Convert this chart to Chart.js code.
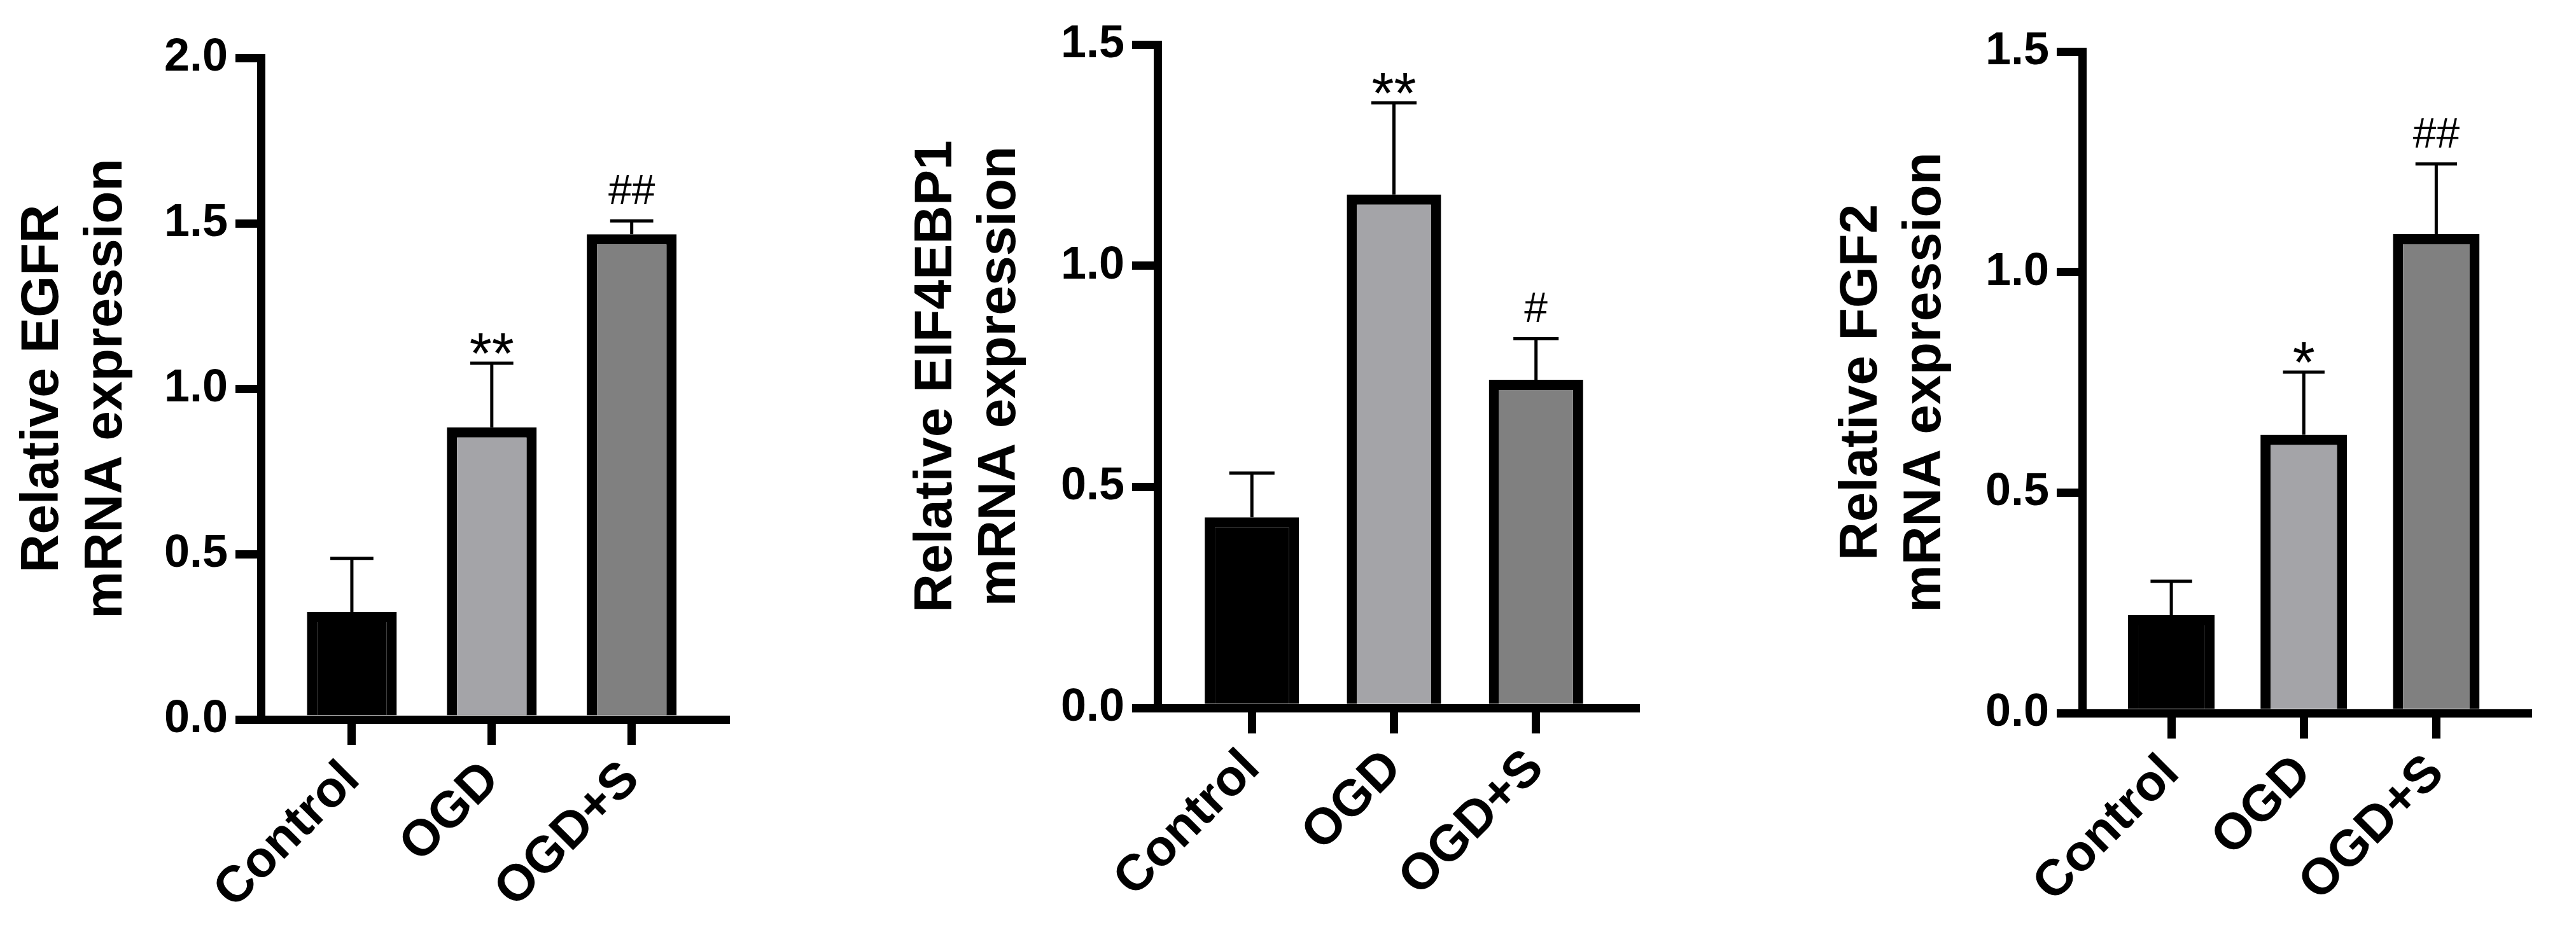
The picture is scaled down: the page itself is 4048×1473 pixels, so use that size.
<!DOCTYPE html>
<html>
<head>
<meta charset="utf-8">
<script src="https://cdn.jsdelivr.net/npm/chart.js@4.4.1/dist/chart.umd.min.js"></script>
<style>
  html, body { margin: 0; padding: 0; background: #fff; }
  #wrap { position: relative; width: 4048px; height: 1473px; }
  .panel { position: absolute; top: 0; height: 1473px; }
</style>
</head>
<body>
<div id="wrap">
  <div class="panel" style="left:0"><canvas id="c1" width="1350" height="1473"></canvas></div>
  <div class="panel" style="left:1350px"><canvas id="c2" width="1400" height="1473"></canvas></div>
  <div class="panel" style="left:2750px"><canvas id="c3" width="1298" height="1473"></canvas></div>
</div>
<script>
// données (moyenne + barre d'erreur vers le haut)
const groups = ['Control', 'OGD', 'OGD+S'];
const barColors = ['#000000', '#a4a4a8', '#808080'];

const egfrMean = [0.325, 0.883, 1.467];
const egfrErr  = [0.162, 0.194, 0.040];
const egfrSig  = ['', '**', '##'];
const egfrTicks = [0, 0.5, 1.0, 1.5, 2.0];

const eifMean = [0.431, 1.161, 0.742];
const eifErr  = [0.100, 0.207, 0.093];
const eifSig  = ['', '**', '#'];
const eifTicks = [0, 0.5, 1.0, 1.5];

const fgfMean = [0.222, 0.631, 1.086];
const fgfErr  = [0.077, 0.142, 0.159];
const fgfSig  = ['', '*', '##'];
const fgfTicks = [0, 0.5, 1.0, 1.5];

const FONT = '"Liberation Sans", Arial, sans-serif';

//barres d'erreur + étoiles au dessus//
const errorBars = {
  id: 'errorBars',
  afterDatasetsDraw(chart, args, opts) {
    const ctx = chart.ctx;
    const y = chart.scales.y;
    const meta = chart.getDatasetMeta(0);
    ctx.save();
    ctx.strokeStyle = '#000';
    ctx.fillStyle = '#000';
    ctx.lineWidth = 5;
    meta.data.forEach((bar, i) => {
      const p = bar.getProps(['x', 'y', 'width'], true);
      const top = y.getPixelForValue(opts.mean[i] + opts.err[i]);
      const half = p.width * 0.24;
      ctx.beginPath();
      ctx.moveTo(p.x, p.y);
      ctx.lineTo(p.x, top);
      ctx.moveTo(p.x - half, top);
      ctx.lineTo(p.x + half, top);
      ctx.stroke();
      const s = opts.sig[i];
      if (s) {
        ctx.textAlign = 'center';
        ctx.textBaseline = 'alphabetic';
        // l'astérisque d'Arial est petit et haut placé -> police + grande, ligne de base + basse
        if (s.includes('*')) {
          ctx.font = '90px ' + FONT;
          ctx.fillText(s, p.x, top + 16);
        } else {
          ctx.font = '66px ' + FONT;
          ctx.fillText(s, p.x, top - 26);
        }
      }
    });
    ctx.restore();
  }
};

function makeChart(id, mean, err, sig, yTicks, title, box) {
  new Chart(document.getElementById(id).getContext('2d'), {
    type: 'bar',
    data: {
      datasets: [{
        data: mean.map((m, i) => ({ x: i, y: m })),
        backgroundColor: barColors,
        borderColor: '#000',
        borderWidth: 16,
        borderSkipped: 'bottom',
        categoryPercentage: 1,
        barPercentage: box.bar,
      }]
    },
    options: {
      responsive: false,
      animation: false,
      devicePixelRatio: 1,
      layout: { padding: { top: box.top, right: box.right, left: 0, bottom: 0 } },
      plugins: {
        legend: { display: false },
        tooltip: { enabled: false },
        errorBars: { mean: mean, err: err, sig: sig }
      },
      scales: {
        x: {
          type: 'linear',
          offset: false,
          bounds: 'data',
          min: box.xMin,
          max: box.xMax,
          afterBuildTicks: s => { s.ticks = groups.map((g, i) => ({ value: i })); },
          afterFit: s => { s.height = 1473 - box.bottom; },
          ticks: {
            autoSkip: false,
            minRotation: 45,
            maxRotation: 45,
            padding: 8,
            color: '#000',
            font: { family: FONT, size: 80, weight: 'bold' },
            callback: (v, i) => groups[i]
          },
          grid: { offset: false, drawOnChartArea: false, tickLength: 40, lineWidth: 13, tickWidth: 13, color: '#000', tickColor: '#000' },
          border: { width: 13, color: '#000' }
        },
        y: {
          min: 0,
          max: yTicks[yTicks.length - 1],
          afterBuildTicks: s => { s.ticks = yTicks.map(v => ({ value: v })); },
          afterFit: s => { s.width = box.left; },
          ticks: {
            padding: 12,
            color: '#000',
            font: { family: FONT, size: 72, weight: 'bold' },
            callback: v => v.toFixed(1)
          },
          grid: { drawOnChartArea: false, tickLength: 40, lineWidth: 13, tickWidth: 13, color: '#000', tickColor: '#000' },
          border: { width: 13, color: '#000' },
          title: {
            display: true,
            text: title,
            color: '#000',
            padding: { top: box.title, bottom: 0 },
            font: { family: FONT, size: 84, weight: 'bold', lineHeight: 1.2 }
          }
        }
      }
    },
    plugins: [errorBars]
  });
}

makeChart('c1', egfrMean, egfrErr, egfrSig, egfrTicks, ['Relative EGFR', 'mRNA expression'],
  { left: 410, right: 210, top: 91, bottom: 1131, xMin: -0.65, xMax: 2.67, bar: 0.642, title: 17 });
makeChart('c2', eifMean, eifErr, eifSig, eifTicks, ['Relative EIF4EBP1', 'mRNA expression'],
  { left: 469, right: 180, top: 70, bottom: 1113, xMin: -0.664, xMax: 2.70, bar: 0.664, title: 71 });
makeChart('c3', fgfMean, fgfErr, fgfSig, fgfTicks, ['Relative FGF2', 'mRNA expression'],
  { left: 522, right: 76, top: 81, bottom: 1121, xMin: -0.673, xMax: 2.69, bar: 0.654, title: 125 });
</script>
</body>
</html>
